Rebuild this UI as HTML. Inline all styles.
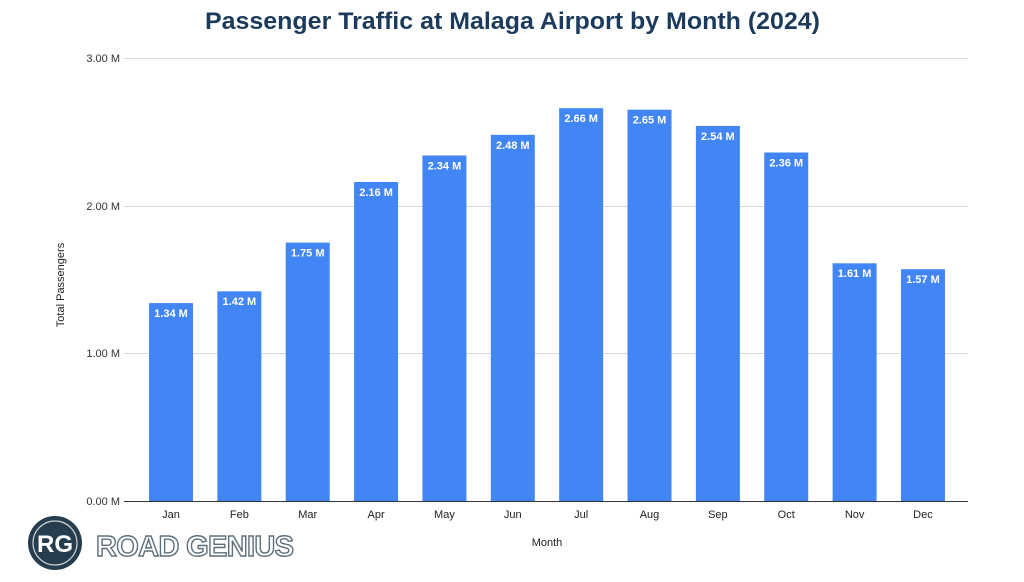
<!DOCTYPE html>
<html><head><style>body{margin:0;background:#fff}svg{display:block}</style></head><body>
<svg width="1024" height="582" xmlns="http://www.w3.org/2000/svg" font-family="Liberation Sans, Arial, sans-serif">
<text x="205" y="29" font-size="24" font-weight="bold" fill="#1b3a5c" textLength="615" lengthAdjust="spacingAndGlyphs">Passenger Traffic at Malaga Airport by Month (2024)</text>
<g stroke="#d9d9d9" stroke-width="1">
<line x1="124" x2="968" y1="58.5" y2="58.5"/><line x1="124" x2="968" y1="206.5" y2="206.5"/><line x1="124" x2="968" y1="353.5" y2="353.5"/>
</g>
<g font-size="11" fill="#333" text-anchor="end">
<text x="120" y="62">3.00 M</text><text x="120" y="210">2.00 M</text><text x="120" y="357">1.00 M</text><text x="120" y="505">0.00 M</text>
</g>
<text transform="translate(64,285) rotate(-90)" text-anchor="middle" font-size="11" fill="#222">Total Passengers</text>
<text x="547" y="546" text-anchor="middle" font-size="11" fill="#222">Month</text>
<g fill="#4285f4">
<rect x="149" y="303.1" width="44" height="197.9"/>
<rect x="217.36" y="291.3" width="44" height="209.7"/>
<rect x="285.72" y="242.6" width="44" height="258.4"/>
<rect x="354.08" y="182" width="44" height="319"/>
<rect x="422.44" y="155.5" width="44" height="345.5"/>
<rect x="490.8" y="134.8" width="44" height="366.2"/>
<rect x="559.16" y="108.2" width="44" height="392.8"/>
<rect x="627.52" y="109.7" width="44" height="391.3"/>
<rect x="695.88" y="125.9" width="44" height="375.1"/>
<rect x="764.24" y="152.5" width="44" height="348.5"/>
<rect x="832.6" y="263.3" width="44" height="237.7"/>
<rect x="900.96" y="269.2" width="44" height="231.8"/>
</g>
<g font-size="11" font-weight="bold" fill="#fff" text-anchor="middle">
<text x="171" y="317">1.34 M</text>
<text x="239.36" y="305">1.42 M</text>
<text x="307.72" y="256.5">1.75 M</text>
<text x="376.08" y="196">2.16 M</text>
<text x="444.44" y="169.5">2.34 M</text>
<text x="512.8" y="149">2.48 M</text>
<text x="581.16" y="122">2.66 M</text>
<text x="649.52" y="123.5">2.65 M</text>
<text x="717.88" y="140">2.54 M</text>
<text x="786.24" y="166.5">2.36 M</text>
<text x="854.6" y="277">1.61 M</text>
<text x="922.96" y="283">1.57 M</text>
</g>
<g font-size="11" fill="#222" text-anchor="middle">
<text x="171" y="518">Jan</text><text x="239.36" y="518">Feb</text><text x="307.72" y="518">Mar</text><text x="376.08" y="518">Apr</text>
<text x="444.44" y="518">May</text><text x="512.8" y="518">Jun</text><text x="581.16" y="518">Jul</text><text x="649.52" y="518">Aug</text>
<text x="717.88" y="518">Sep</text><text x="786.24" y="518">Oct</text><text x="854.6" y="518">Nov</text><text x="922.96" y="518">Dec</text>
</g>
<line x1="124" x2="968" y1="501.5" y2="501.5" stroke="#333" stroke-width="1"/>
<g>
<circle cx="55" cy="543" r="27" fill="#263d4f"/>
<circle cx="55" cy="543" r="22" fill="none" stroke="#c8d0d6" stroke-width="1.2"/>
<text x="55" y="552" text-anchor="middle" font-size="24" font-weight="bold" fill="#fff">RG</text>
<text x="96" y="556" font-size="29" font-weight="bold" fill="#fff" stroke="#5c6f7c" stroke-width="1.4" letter-spacing="1" textLength="199">ROAD GENIUS</text>
</g>
</svg>
</body></html>
